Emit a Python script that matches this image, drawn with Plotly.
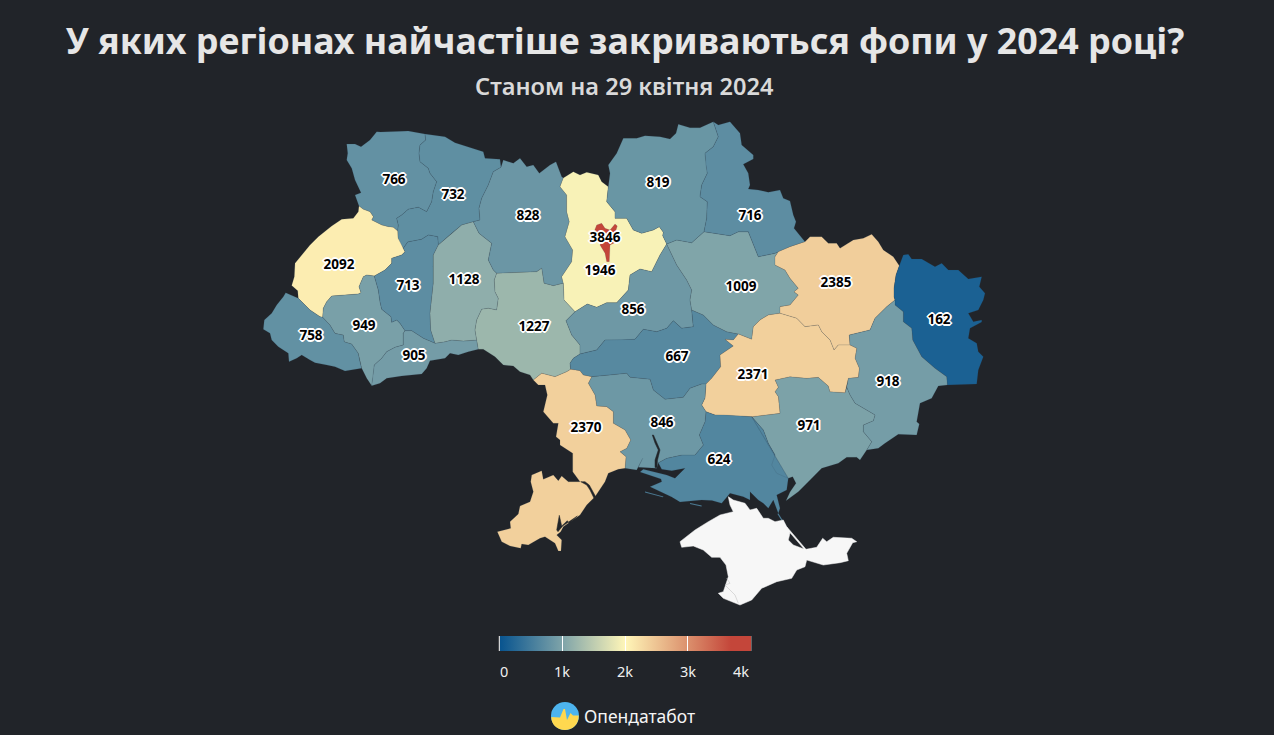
#!/usr/bin/env python3
# -*- coding: utf-8 -*-
"""Закриті ФОПи за регіонами України, 2024 (контури читані з картинки, у пікселях сторінки)"""

import plotly.graph_objects as go
from plotly.colors import sample_colorscale

BG = "#212429"
TITLE = "У яких регіонах найчастіше закриваються фопи у 2024 році?"
SUBTITLE = "Станом на 29 квітня 2024"
BRAND = "Опендатабот"

COLORSCALE = [[0, "#08548f"], [0.25, "#7fa4a9"], [0.5, "#fff6b8"],
              [0.75, "#db8f6c"], [0.92, "#c4463a"], [1, "#c4463a"]]
CMAX = 4000
BAR_TICKS = [0, 1000, 2000, 3000, 4000]
BAR_LABELS = ["0", "1k", "2k", "3k", "4k"]

# дані: регіон, значення, положення підпису
REGIONS = ["Волинська", "Рівненська", "Львівська", "Закарпатська", "Івано-Франківська", "Тернопільська",
           "Чернівецька", "Хмельницька", "Житомирська", "Київська", "Вінницька", "Черкаська",
           "Кіровоградська", "Полтавська", "Чернігівська", "Сумська", "Харківська", "Луганська",
           "Донецька", "Запорізька", "Дніпропетровська", "Херсонська", "Миколаївська", "Одеська", "м. Київ"]
VALUES = [766, 732, 2092, 758, 949, 713,
          905, 1128, 828, 1946, 1227, 856,
          667, 1009, 819, 716, 2385, 162,
          918, 971, 2371, 624, 846, 2370, 3846]
LABEL_X = [394, 453, 339, 311, 364, 408,
           414, 464, 528, 600, 534, 633,
           677, 741, 658, 750, 836, 939,
           888, 809, 753, 719, 662, 586, 605]
LABEL_Y = [181, 196, 266, 337, 327, 287,
           357, 281, 217, 272, 328, 311,
           358, 288, 184, 217, 284, 321,
           383, 427, 376, 461, 424, 429, 239]

# спільні ділянки кордонів
VOL_OUT = [(425,134),(408.3,131),(380.7,132),(376.7,131.7),(370,140),(361,146.7),(355,144),(346.7,144),(347.7,153.3),(346.7,160),(351.7,168.3),(355,180),(361,192.7),(355,195),(359,206)]
VOL_RIV = [(425,134),(425.7,140),(420,145),(419,153.3),(420,161.7),(428.3,168.3),(430,173.3),(436.7,181.7),(433.3,191.7),(431.7,201.7),(426.7,211.7),(418.3,207.3),(408.3,209.3),(401.7,215),(396.7,218.3),(398.3,225),(397.7,231)]
VOL_LVI = [(359,206),(363.3,209.3),(370,211.7),(373.3,216.7),(371.7,220),(381.7,225),(388.3,226.7),(393.3,227.3),(397.7,231)]
RIV_OUT = [(425,134),(445,136.7),(455,142.7),(471.7,148.3),(483.3,151.7),(485,158.3),(500,159.3),(501,167.3)]
RIV_ZHY = [(501,167.3),(493.3,171.7),(488.3,185),(481.7,198.3),(479,208.3),(480,220),(473.3,221.7)]
RIV_KHM = [(473.3,221.7),(461.7,225),(451.7,233.3),(438.3,245)]
RIV_TER = [(438.3,245),(437.7,236.7),(428.3,235),(421.7,239.3),(407.7,242),(403.3,248.3)]
LVI_RIV = [(397.7,231),(398,238),(400,243),(403.3,248.3)]
LVI_OUT = [(359,206),(358.3,211.7),(353.3,218.3),(341.7,219.3),(331.7,226),(318.3,236.7),(310,245),(295,263.3),(294.3,276.7),(291.7,285.5),(297.7,290.7),(298.3,298.3)]
LVI_ZAK = [(298.3,298.3),(310,310),(320,316.7),(322.7,317.3)]
LVI_IF = [(322.7,317.3),(323.3,308.3),(326.7,301.7),(331.7,296),(358.3,294),(361,292.7),(359,286.7),(363.3,276.7),(366.7,275),(374.3,276)]
LVI_TER = [(374.3,276),(385,270),(391.7,263.3),(391.7,258.3),(401.7,255),(405,251.7),(403.3,248.3)]
ZAK_OUT = [(298.3,298.3),(290,295),(285.7,292.7),(283.3,296.7),(276.7,305),(271.7,313.3),(264.3,320),(263.3,329.3),(270,333.3),(271.7,340),(278.3,346.7),(288.3,353.3),(289,361.7),(296.7,358.3),(301.7,355),(310,360),(315,362.7),(326.7,365),(335,366.7),(345,371),(355,369.3),(361.7,368.3)]
ZAK_IF = [(322.7,317.3),(330,325),(335,333.3),(343.3,335),(344.3,341.7),(351.7,344),(358.3,353.3),(360,361.7),(361.7,368.3)]
IF_OUT = [(361.7,368.3),(366.7,378.3),(371.7,385.7)]
IF_CHE = [(371.7,385.7),(373.3,375),(374.3,365),(381.7,358.3),(386.7,351.7),(395,347.3),(403.3,345),(403.3,333.3),(405,330.7)]
IF_TER = [(405,330.7),(400,323.3),(396.7,320),(391.7,322.3),(391,316.7),(381.7,309.3),(380,301.7),(378.3,290),(374.3,276)]
TER_CHE = [(405,330.7),(411.7,330.7),(418.3,335),(423.3,338.3),(435,343.3)]
TER_KHM = [(435,343.3),(430.7,330),(430,313.3),(431.7,296.7),(433.3,283.3),(433.3,266.7),(433.3,255),(438.3,245)]
CHE_OUT = [(371.7,385.7),(380,383.3),(386.7,378.3),(401.7,376),(421.7,374),(426.7,368.3),(430,360.7),(445,358.3),(450,353.3),(458.3,355),(468.3,351.7),(478.3,349.3)]
CHE_VIN = [(478.3,349.3),(476.7,340)]
CHE_KHM = [(476.7,340),(463.3,341),(451.7,340),(445,341.7),(435,343.3)]
KHM_VIN = [(476.7,340),(475,330),(476.7,320),(481.7,309.3),(488.3,308.3),(496.7,310),(498.3,298.3),(495,291.7),(494.3,280),(496.7,273.3)]
KHM_ZHY = [(473.3,221.7),(479,233.3),(491.7,243.3),(488.3,260),(493.3,270),(496.7,273.3)]
ZHY_OUT = [(501,167.3),(503.3,160),(513.3,163.3),(520,158.3),(526.7,166.7),(533.3,165),(539.3,173.3),(550,165),(556,161.7),(561.7,176.7),(563.3,178)]
ZHY_KYI = [(563.3,178),(560,186.7),(566.7,195),(566.7,211.7),(569.3,221.7),(565,236.7),(572.7,250),(571.7,261.7),(561.7,276.7),(563.3,283.3)]
ZHY_VIN = [(496.7,273.3),(536.7,271.7),(541.7,268.3),(544,283.3),(553.3,285.7),(563.3,283.3)]
KYI_OUT = [(563.3,178),(573.3,171.7),(580,175),(586.7,172.3),(598.3,175),(601.7,181.7),(608.3,186.7)]
KYI_CHR = [(608.3,186.7),(606.7,201.7),(615,211.7),(615,218.3),(626.7,218.3),(633.3,230),(641.7,233.3),(653.3,230),(659.3,226.7),(663.3,232.3),(662.7,235.7),(666.7,244)]
KYI_CHK = [(666.7,244),(660,255),(651.7,271.7),(640,269),(630,275),(628.3,290),(616.7,302.7),(606.7,302.7),(596.7,307.3),(587.3,304),(575,311.7)]
KYI_VIN = [(563.3,283.3),(564,300),(575,311.7)]
VIN_CHK = [(575,311.7),(566,320.7),(571.7,335),(580,345),(580,354)]
VIN_KIR = [(580,354),(573.3,358.3),(570,363.3),(570.7,369.3)]
VIN_ODE = [(570.7,369.3),(566.7,371.7),(555,376.7),(541.7,373.3),(533.3,380)]
VIN_OUT = [(533.3,380),(530,375),(520,371.7),(513.3,366),(503.3,365),(495,356.7),(483.3,349.3),(478.3,349.3)]
CHK_POL = [(666.7,244),(676.7,265),(686.7,280),(691.7,290),(690,300),(691.7,310)]
CHK_KIR = [(580,354),(596.7,350),(605,340),(621.7,340),(635,339.3),(643.3,329.3),(656.7,331.7),(666.7,328.3),(673.3,320.7),(681.7,328.3),(693.3,326.7),(691.7,310)]
KIR_POL = [(691.7,310),(703.3,315),(713.3,325),(726.7,331.7),(738.3,334)]
KIR_DNI = [(738.3,334),(733.3,340),(725,339.3),(733.3,346),(720,355),(720.7,366.7),(711.7,378.3),(706,384)]
KIR_MYK = [(706,384),(701.7,384),(690,388.3),(683.3,397.3),(665,399.3),(653.3,390),(650,379.3),(630,377.3),(626.7,373.3),(610,375),(591.7,376.7)]
KIR_ODE = [(591.7,376.7),(583.3,375),(580,370.7),(570.7,369.3)]
POL_CHR = [(666.7,244),(676.7,240),(691.7,242.7),(704,231.7)]
POL_SUM = [(704,231.7),(730,235.7),(738.3,231.7),(748.3,231.7),(758.3,256.7),(775,253.3),(778.3,251.7)]
POL_KHA = [(778.3,251.7),(775,256.7),(775,265),(785,270),(790,278.3),(798.3,288.3),(794,291.7),(798.3,295),(790,305),(780,306.7),(780,313.3)]
POL_DNI = [(780,313.3),(768.3,315),(760,320),(753.3,326.7),(751.7,339.3),(738.3,334)]
CHR_OUT = [(608.3,186.7),(610,173.3),(608.3,165),(616.7,153.3),(623.3,138.3),(636.7,138.3),(645,135.7),(660,136.7),(670,139),(676,133.3),(678.3,124.3),(690,127.7),(700,127.7),(713.3,121.7)]
CHR_SUM = [(713.3,121.7),(718.3,136.7),(713.3,146.7),(705,153.3),(706,165),(707.3,173.3),(701.7,185),(700,196.7),(707.3,201.7),(706.7,218.3),(704,231.7)]
SUM_OUT = [(713.3,121.7),(718.3,125),(730,121.7),(740,133.3),(741.7,145),(753.3,155),(753.3,159),(743.3,164.3),(748.3,173.3),(750,185),(748.3,189),(758.3,190),(768.3,192.3),(780,190),(783.3,198.3),(790,201),(793.3,215),(796,221.7),(794,228.3),(805,241.7)]
SUM_KHA = [(805,241.7),(790,246.7),(778.3,251.7)]
KHA_OUT = [(805,241.7),(810,236.7),(821.7,236.7),(828.3,243.3),(836.7,243.3),(840,248.3),(853.3,240),(863.3,238.3),(871.7,234.3),(878.3,241.7),(883.3,250),(893.3,256.7),(899.3,265.7)]
KHA_LUH = [(899.3,265.7),(896,275),(894,288.3),(894,296.7),(895,300)]
KHA_DON = [(895,300),(886.7,306.7),(875,318.3),(870,330),(849.3,335),(850,345)]
KHA_DNI = [(850,345),(838.3,345),(834,350),(830,340),(821.7,331.7),(818.3,325),(805,326.7),(796.7,318.3),(780,313.3)]
LUH_OUT = [(899.3,265.7),(903.3,255),(908.3,254.3),(911.7,259),(921.7,259),(935,266.7),(941.7,263.3),(948.3,270),(958.3,270),(968.3,279),(981.7,276.7),(979.3,286.7),(985,293.3),(983.3,300),(978.3,310),(968.3,313.3),(973.3,321.7),(981.7,320),(981.7,322),(970,328.3),(968.3,338.3),(976.7,343.3),(978.3,351.7),(983.3,356.7),(978.3,370),(976.7,384),(947.3,385)]
LUH_DON = [(947.3,385),(946.7,376.7),(935,368.3),(921.7,356.7),(912.7,340),(911.7,328.3),(903.3,321.7),(903.3,311.7),(895,305),(895,300)]
DON_OUT = [(947.3,385),(938.3,386),(931.7,398.3),(920,403.3),(916.7,421.7),(919.3,424),(916.7,435),(898.3,434.3),(885,443.3),(878.3,448.3),(866.7,450)]
DON_ZAP = [(866.7,450),(871.7,441.7),(863.3,431.7),(863.3,425),(873.3,420.7),(875,415),(855,403.3),(850,395),(846.7,387.3)]
DON_DNI = [(846.7,387.3),(848.3,378.3),(858.3,377.3),(859.3,368.3),(855,358.3),(856.7,348.3),(850,345)]
ZAP_OUT = [(866.7,450),(860,460),(856.7,457.3),(846.7,457.3),(838.3,463.3),(821.7,468.3),(808.3,481.7),(798.3,491.7),(786,500.7),(790,492),(796,483.3),(792.7,476.7),(788.3,478.3)]
ZAP_KHE = [(788.3,478.3),(776.7,473.3),(771.7,465),(775,455),(768.3,443.3),(763.3,430),(751.7,416.7)]
ZAP_DNI = [(751.7,416.7),(780,413.3),(778.3,396.7),(775,391.7),(778.3,387.3),(775,380),(790,376.7),(806.7,378.3),(818.3,377.3),(828.3,386),(830,391.7),(845,392.7),(846.7,387.3)]
DNI_MYK = [(706,384),(705,398),(701.7,405),(706,411.7)]
DNI_KHE = [(706,411.7),(715,415),(725,415),(751.7,416.7)]
KHE_MYK = [(706,411.7),(705,421.7),(699.3,435),(703.3,445),(695,455),(681.7,455),(666.7,458.3),(658.3,462.7)]
KHE_OUT = [(658.3,462.7),(661.7,469.3),(671.7,470.7),(685,468.3),(675,478.3),(666.7,475),(643.3,469.3),(640,472),(661,479),(661.7,481.7),(650,486.7),(671.7,497),(680,502),(701.7,500),(712,500.5),(721.7,503.3),(730,493.3),(743.3,496.7),(750,500),(750,491.7),(758.3,500),(763.3,503.3),(768.3,508.3),(773.3,500),(778.3,513.3),(780,508.3),(776.7,495),(786.7,490),(788.3,478.3)]
KHE_ISLE_1 = [(645,491.5),(663.3,496.5),(663,497.3),(645,492.5)]
KHE_ISLE_2 = [(690,503),(701.7,505.5),(701.5,506.5),(690,504)]
KHE_SPIT = [(778.3,513.3),(786.7,526.7),(785.5,527),(777.5,514)]
MYK_ODE = [(591.7,376.7),(588.3,383.3),(595,395),(596.7,406),(606.7,406.7),(613.3,411.7),(613.3,423.3),(625,430),(630.7,440),(626.7,448.3),(620,451.7),(626,456.7),(625,468.3)]
MYK_OUT = [(625,468.3),(636.7,470),(642.7,458.3),(638.3,467.3),(656.7,468.3),(658.3,462.7)]
ODE_OUT = [(533.3,380),(538.3,385),(545,385),(547.3,395),(543.3,411.7),(553.3,423.3),(558.3,423.3),(556,436.7),(560,440),(560,445),(572.7,453.3),(572.7,471.7),(580,481.7),(568.3,481.7),(561.7,476),(558.3,480.7),(553.3,475),(543.3,479.3),(541.7,470.7),(531.7,475),(530.7,481.7),(533.3,491.7),(530,501.7),(520,506),(518.3,514),(510,521.7),(510.7,528.3),(497.3,531.7),(501.7,541.7),(510,546),(520.7,548.3),(521.7,544),(528.3,545),(540,538.3),(545,536.7),(555,543.3),(558.3,551),(561,551),(561.7,540),(556.7,535),(560.7,531.7),(563.3,526.7),(580,515),(586.7,505),(595,496.7),(605,481.7),(608.3,473.3),(618.3,469.3),(625,468.3)]
KYIV_CITY = [(595,229.3),(596.7,225),(601.7,223.3),(605,228.3),(610,230),(615,224),(617.3,226),(615,233.3),(618,237),(616.7,241.7),(610,245),(609.3,261.7),(606.7,261.7),(605,253.3),(600,245),(601.7,241.7),(593.3,235)]
CRIMEA = [(728.3,496.7),(730,505),(733.3,511.7),(720,515),(708.3,521.7),(695,530),(680,541.7),(681.7,547.3),(693.3,546),(703.3,550),(711.7,557.3),(720,557.3),(726,565),(728.3,576.7),(725,586.7),(723.3,591.7),(718.3,593.3),(723.3,598.3),(740,605),(751.7,600),(761.7,588.3),(776.7,581.7),(791.7,578.3),(796.7,570),(805,566.7),(806.7,560),(823.3,565),(840,562.7),(848.3,560.7),(846.7,553.3),(852.7,542.7),(856.7,541.7),(851.7,538.3),(833.3,537.3),(826.7,541.7),(822.7,538.3),(816.7,547.3),(806,549.3),(787,527),(785.5,527.5),(804,549),(793.3,545),(788.3,540),(790,533.3),(783.3,520),(775,521.7),(768.3,518.3),(763.3,518.3),(756.7,508.3),(750,510),(745,503.3),(733.3,500)]
SEVASTOPOL_LINE = [(726.7,578.3),(730,583.3),(725,585),(730,590),(735,595),(738.3,603.3)]
# лимани та лагуни
WATER = [
    [(652.3,435),(655,443),(658.3,450),(655,460),(655,467.5),(657,467.5),(657.5,460),(660,450),(656.5,442),(653.5,435)],
    [(580.7,481.7),(586.7,485),(590,490),(594,498.3),(595.7,496.7),(589.3,485),(585,481.7)],
    [(556.7,530),(559.3,515.3),(561.7,526),(567.3,520.7),(569.3,523.3),(577.3,516),(562.7,526),(558,531.7)],
]


def rev(seg):
    return seg[::-1]


def join(*segs):
    pts = []
    for seg in segs:
        pts += seg
    return pts


OUTLINES = [
    join(VOL_OUT, VOL_LVI, rev(VOL_RIV)),
    join(RIV_OUT, RIV_ZHY, RIV_KHM, RIV_TER, rev(LVI_RIV), rev(VOL_RIV)),
    join(LVI_OUT, LVI_ZAK, LVI_IF, LVI_TER, rev(LVI_RIV), rev(VOL_LVI)),
    join(ZAK_OUT, rev(ZAK_IF), rev(LVI_ZAK)),
    join(ZAK_IF, IF_OUT, IF_CHE, IF_TER, rev(LVI_IF)),
    join(rev(IF_TER), TER_CHE, TER_KHM, RIV_TER, rev(LVI_TER)),
    join(CHE_OUT, CHE_VIN, CHE_KHM, rev(TER_CHE), rev(IF_CHE)),
    join(KHM_ZHY, rev(KHM_VIN), CHE_KHM, TER_KHM, rev(RIV_KHM)),
    join(ZHY_OUT, ZHY_KYI, rev(ZHY_VIN), rev(KHM_ZHY), rev(RIV_ZHY)),
    join(KYI_OUT, KYI_CHR, KYI_CHK, rev(KYI_VIN), rev(ZHY_KYI)),
    join(ZHY_VIN, KYI_VIN, VIN_CHK, VIN_KIR, VIN_ODE, VIN_OUT, CHE_VIN, KHM_VIN),
    join(rev(KYI_CHK), CHK_POL, rev(CHK_KIR), rev(VIN_CHK)),
    join(CHK_KIR, KIR_POL, KIR_DNI, KIR_MYK, KIR_ODE, rev(VIN_KIR)),
    join(POL_CHR, POL_SUM, POL_KHA, POL_DNI, rev(KIR_POL), rev(CHK_POL)),
    join(CHR_OUT, CHR_SUM, rev(POL_CHR), rev(KYI_CHR)),
    join(SUM_OUT, SUM_KHA, rev(POL_SUM), rev(CHR_SUM)),
    join(KHA_OUT, KHA_LUH, KHA_DON, KHA_DNI, rev(POL_KHA), rev(SUM_KHA)),
    join(LUH_OUT, LUH_DON, rev(KHA_LUH)),
    join(DON_OUT, DON_ZAP, DON_DNI, rev(KHA_DON), rev(LUH_DON)),
    join(ZAP_OUT, ZAP_KHE, ZAP_DNI, rev(DON_ZAP)),
    join(rev(POL_DNI), rev(KHA_DNI), rev(DON_DNI), rev(ZAP_DNI), rev(DNI_KHE), rev(DNI_MYK), rev(KIR_DNI)),
    join(KHE_MYK, KHE_OUT, rev(ZAP_KHE), rev(DNI_KHE)),
    join(MYK_ODE, MYK_OUT, rev(KHE_MYK), rev(DNI_MYK), KIR_MYK),
    join(ODE_OUT, rev(MYK_ODE), KIR_ODE, VIN_ODE),
    KYIV_CITY,
]


def polygon_trace(parts, color, line_color):
    xs, ys = [], []
    for part in parts:
        xs += [p[0] for p in part] + [part[0][0], None]
        ys += [p[1] for p in part] + [part[0][1], None]
    return go.Scatter(x=xs, y=ys, mode="lines", fill="toself", fillcolor=color,
                      line=dict(color=line_color, width=0.5), hoverinfo="skip", showlegend=False)


fig = go.Figure()

for name, value, outline in zip(REGIONS, VALUES, OUTLINES):
    color = sample_colorscale(COLORSCALE, value / CMAX)[0]
    parts = [outline]
    if name == "Херсонська":
        parts += [KHE_ISLE_1, KHE_ISLE_2, KHE_SPIT]
    fig.add_trace(polygon_trace(parts, color, "rgba(50,70,85,0.3)"))

fig.add_trace(polygon_trace([CRIMEA], "#f7f7f7", "#f7f7f7"))
fig.add_trace(go.Scatter(x=[p[0] for p in SEVASTOPOL_LINE], y=[p[1] for p in SEVASTOPOL_LINE], mode="lines",
                         line=dict(color="#c4c4c4", width=0.6), hoverinfo="skip", showlegend=False))
fig.add_trace(polygon_trace(WATER, BG, BG))

# підписи + шкала кольору
halo = ",".join(f"{dx}px {dy}px 0 #fff" for dx, dy in
                [(-2, 0), (2, 0), (0, -2), (0, 2), (-1, -1), (1, -1), (-1, 1), (1, 1)])
fig.add_trace(go.Scatter(
    x=LABEL_X, y=LABEL_Y, mode="markers+text", text=[str(v) for v in VALUES], textposition="middle center",
    textfont=dict(family="Noto Sans", size=13.5, color="#000", weight=700, shadow=halo),
    marker=dict(size=0, color=VALUES, cmin=0, cmax=CMAX, colorscale=COLORSCALE, showscale=True, colorbar=dict(
        orientation="h", x=625 / 1274, xanchor="center", y=1 - 636 / 735, yanchor="top",
        lenmode="pixels", len=250.5, thickness=15, xpad=0, ypad=0, outlinewidth=0, borderwidth=0,
        tickmode="array", tickvals=BAR_TICKS, ticks="inside", ticklen=15, tickwidth=1, tickcolor="#fff",
        showticklabels=False)),
    hoverinfo="text", showlegend=False))

fig.update_layout(
    width=1274, height=735, autosize=False,
    margin=dict(l=0, r=0, t=0, b=0, autoexpand=False),
    paper_bgcolor=BG, plot_bgcolor=BG,
    showlegend=False,
    title=dict(text=TITLE, x=625 / 1274, xanchor="center", y=1 - 41.5 / 735, yanchor="middle",
               font=dict(family="Noto Sans", size=35.8, color="#e6e6e6", weight=700)),
    xaxis=dict(range=[0, 1274], visible=False, fixedrange=True),
    yaxis=dict(range=[735, 0], visible=False, fixedrange=True),
)

fig.add_annotation(text=SUBTITLE, x=624, y=85.5, xref="x", yref="y", showarrow=False,
                   font=dict(family="Noto Sans", size=23.6, color="#d9d9d9", weight=600))

# підписи шкали зсунуті всередину на краях, як в оригіналі
for label, lx in zip(BAR_LABELS, [504, 562, 625, 688, 741]):
    fig.add_annotation(text=label, x=lx, y=670.5, xref="x", yref="y", showarrow=False,
                       font=dict(family="Noto Sans", size=14.5, color="#f0f0f0"))

# крайні риски шкали
for tx in (499.3, 750.8):
    fig.add_shape(type="line", x0=tx, x1=tx, y0=636, y1=651, xref="x", yref="y",
                  line=dict(color="#ffffff", width=1), layer="above")

# логотип
fig.add_shape(type="circle", x0=551, x1=579, y0=702, y1=730, xref="x", yref="y",
              fillcolor="#4db4ee", line_width=0)
fig.add_shape(type="path", xref="x", yref="y", fillcolor="#ffd84f", line_width=0,
              path="M 551.3 717 L 560 717.5 L 563.5 709 L 565 709 L 567 720 L 570.5 713 L 573 715.5 L 578.7 715.5 "
                   "C 579 725 572 730 565 730 C 557 730 551 724 551.3 717 Z")
fig.add_annotation(text=BRAND, x=582, y=716, xref="x", yref="y", xanchor="left", showarrow=False,
                   font=dict(family="Noto Sans", size=17.5, color="#f5f5f5"))

fig.write_html("out.html", config=dict(displayModeBar=False),
               post_script="document.body.style.margin='0';document.body.style.overflow='hidden';"
                           f"document.body.style.background='{BG}';")
